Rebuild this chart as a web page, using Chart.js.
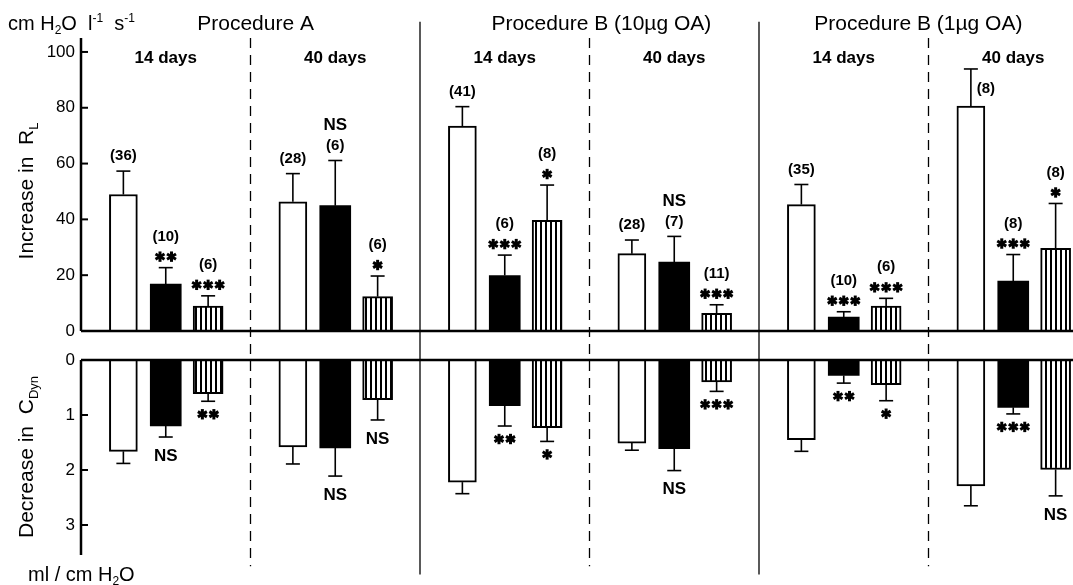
<!DOCTYPE html>
<html>
<head>
<meta charset="utf-8">
<script src="https://cdn.jsdelivr.net/npm/chart.js@4.4.1/dist/chart.umd.min.js"></script>
<style>
  html, body { margin: 0; padding: 0; background: #fff; }
  canvas { display: block; }
</style>
</head>
<body>
<canvas id="chart" width="1073" height="585"></canvas>
<script>
// groups, left to right
const procedures = ['Procedure A', 'Procedure B (10µg OA)', 'Procedure B (1µg OA)'];
const periods = ['14 days', '40 days', '14 days', '40 days', '14 days', '40 days'];

// increase in R_L (cm H2O l-1 s-1): mean and SEM
const rlWhite = [48.9, 46.3, 73.4, 27.7, 45.3, 80.6];
const rlWhiteSem = [8.4, 10.1, 7.0, 4.9, 7.2, 13.3];
const rlBlack = [16.8, 44.9, 19.9, 24.7, 5.0, 17.9];
const rlBlackSem = [5.9, 16.2, 7.3, 9.2, 1.9, 9.5];
const rlHatch = [8.9, 12.3, 39.7, 6.3, 8.9, 29.6];
const rlHatchSem = [3.7, 7.4, 12.6, 3.1, 2.8, 16.1];

// decrease in C_Dyn (ml/cm H2O): mean and SEM
const cdWhite = [1.66, 1.58, 2.22, 1.51, 1.45, 2.29];
const cdWhiteSem = [0.22, 0.31, 0.21, 0.13, 0.21, 0.36];
const cdBlack = [1.20, 1.60, 0.83, 1.61, 0.28, 0.86];
const cdBlackSem = [0.20, 0.51, 0.37, 0.40, 0.14, 0.12];
const cdHatch = [0.61, 0.72, 1.23, 0.40, 0.45, 1.99];
const cdHatchSem = [0.14, 0.37, 0.25, 0.17, 0.29, 0.48];

// text above the R_L bars (top line first) and below the C_Dyn bars
const rlWhiteNotes = [['(36)'], ['(28)'], ['(41)'], ['(28)'], ['(35)'], ['(8)']];
const rlBlackNotes = [['(10)', '**'], ['NS', '(6)'], ['(6)', '***'], ['NS', '(7)'], ['(10)', '***'], ['(8)', '***']];
const rlHatchNotes = [['(6)', '***'], ['(6)', '*'], ['(8)', '*'], ['(11)', '***'], ['(6)', '***'], ['(8)', '*']];
const cdWhiteNotes = [[], [], [], [], [], []];
const cdBlackNotes = [['NS'], ['NS'], ['**'], ['NS'], ['**'], ['***']];
const cdHatchNotes = [['**'], ['NS'], ['*'], ['***'], ['*'], ['NS']];

const rlTicks = [0, 20, 40, 60, 80, 100];
const cdTicks = [0, 1, 2, 3];

const FONT = '"Liberation Sans", Arial, sans-serif';
Chart.defaults.font.family = FONT;
Chart.defaults.color = '#000';

const canvas = document.getElementById('chart');
const ctx = canvas.getContext('2d');

// vertical stripes for the third bar of each group
function stripes() {
  const c = document.createElement('canvas');
  c.width = 5; c.height = 4;
  const g = c.getContext('2d');
  g.fillStyle = '#fff'; g.fillRect(0, 0, 5, 4);
  g.fillStyle = '#000'; g.fillRect(0, 0, 2, 4);
  return ctx.createPattern(c, 'repeat');
}

const whiteStyle = { backgroundColor: '#fff', borderColor: '#000', borderWidth: 2, barThickness: 28 };
const blackStyle = { backgroundColor: '#000', borderColor: '#000', borderWidth: 0, barThickness: 31 };
const hatchStyle = { backgroundColor: stripes(), borderColor: '#000', borderWidth: 2, barThickness: 30 };

function bars(values, sem, notes, slot, axis, style) {
  return Object.assign({
    data: values.map((v, i) => ({ x: i + slot, y: v })),
    sem: sem, notes: notes, yAxisID: axis
  }, style);
}

function line(c, x1, y1, x2, y2) {
  c.beginPath(); c.moveTo(x1, y1); c.lineTo(x2, y2); c.stroke();
}

function drawStars(c, n, cx, cy) {
  c.save();
  c.lineWidth = 3; c.strokeStyle = '#000';
  for (let k = 0; k < n; k++) {
    const sx = cx + (k - (n - 1) / 2) * 11.5;
    for (let a = 0; a < 3; a++) {
      const ang = Math.PI / 2 + a * Math.PI / 3;
      line(c, sx - 5.2 * Math.cos(ang), cy - 5.2 * Math.sin(ang), sx + 5.2 * Math.cos(ang), cy + 5.2 * Math.sin(ang));
    }
  }
  c.restore();
}

function drawNote(c, s, cx, cy) {
  if (/^\*+$/.test(s)) { drawStars(c, s.length, cx, cy); return; }
  c.font = (s === 'NS' ? 'bold 17px ' : 'bold 15px ') + FONT;
  c.textAlign = 'center'; c.textBaseline = 'middle';
  c.fillText(s, cx, cy);
}

// text with sub (1) and superscript (2) parts
function richText(c, parts, x, y, size, align) {
  const fontFor = k => (k ? Math.round(size * 0.62) : size) + 'px ' + FONT;
  let w = 0;
  parts.forEach(([t, k]) => { c.font = fontFor(k); w += c.measureText(t).width; });
  let cx = align === 'center' ? x - w / 2 : x;
  c.textAlign = 'left'; c.textBaseline = 'alphabetic';
  parts.forEach(([t, k]) => {
    c.font = fontFor(k);
    const dy = k === 1 ? size * 0.22 : k === 2 ? -size * 0.42 : 0;
    c.fillText(t, cx, y + dy);
    cx += c.measureText(t).width;
  });
}

const figure = {
  id: 'figure',
  beforeDatasetsDraw(chart) {
    const { ctx: c, scales: { x, yTop, yBottom } } = chart;
    c.save();
    c.strokeStyle = '#000';
    // solid lines between procedures, dashed between periods
    c.lineWidth = 1.3;
    [2, 4].forEach(g => {
      const px = x.getPixelForValue(g);
      line(c, px, yTop.getPixelForValue(110.8), px, yBottom.getPixelForValue(3.9));
    });
    c.setLineDash([10, 7]);
    [1, 3, 5].forEach(g => {
      const px = x.getPixelForValue(g);
      line(c, px, yTop.getPixelForValue(105), px, yBottom.getPixelForValue(3.75));
    });
    c.restore();
  },
  afterDatasetsDraw(chart) {
    const { ctx: c, chartArea: area, scales: { yTop, yBottom } } = chart;
    c.save();
    c.strokeStyle = '#000'; c.fillStyle = '#000';

    // zero lines and axes
    c.lineWidth = 2.5;
    line(c, area.left, yTop.getPixelForValue(0), area.right, yTop.getPixelForValue(0));
    line(c, area.left, yBottom.getPixelForValue(0), area.right, yBottom.getPixelForValue(0));
    line(c, area.left, yTop.getPixelForValue(yTop.max), area.left, yTop.getPixelForValue(0));
    line(c, area.left, yBottom.getPixelForValue(0), area.left, yBottom.getPixelForValue(yBottom.max));
    c.lineWidth = 2;
    yTop.ticks.forEach(t => { if (t.value) { const py = yTop.getPixelForValue(t.value); line(c, area.left, py, area.left + 7, py); } });
    yBottom.ticks.forEach(t => { if (t.value) { const py = yBottom.getPixelForValue(t.value); line(c, area.left, py, area.left + 7, py); } });

    // error bars and labels
    chart.data.datasets.forEach((ds, di) => {
      const meta = chart.getDatasetMeta(di);
      const scale = chart.scales[ds.yAxisID];
      const down = ds.yAxisID === 'yBottom';
      meta.data.forEach((bar, j) => {
        const v = ds.data[j].y;
        const y0 = scale.getPixelForValue(v);
        const y1 = scale.getPixelForValue(v + ds.sem[j]);
        c.lineWidth = 1.6;
        line(c, bar.x, y0, bar.x, y1);
        line(c, bar.x - 7, y1, bar.x + 7, y1);
        const notes = ds.notes[j];
        if (down) {
          notes.forEach(s => drawNote(c, s, bar.x, y1 + (s === 'NS' ? 19 : 13)));
        } else if (y1 - 15 < 75) {
          // no room under the headings: put it beside the error bar
          notes.forEach(s => drawNote(c, s, bar.x + 15, y1 + 20));
        } else {
          let off = 0;
          for (let k = notes.length - 1; k >= 0; k--) {
            const star = /^\*+$/.test(notes[k]);
            off = k === notes.length - 1 ? (star ? 11 : 15) : off + 20;
            drawNote(c, notes[k], bar.x, y1 - off);
          }
        }
      });
    });
    c.restore();
  },
  afterDraw(chart) {
    const { ctx: c, scales: { x } } = chart;
    c.save();
    c.fillStyle = '#000';
    richText(c, [['cm H', 0], ['2', 1], ['O  l', 0], ['-1', 2], ['  s', 0], ['-1', 2]], 8, 30, 20, 'left');
    const headAt = [1.03, 3.07, 4.94];
    procedures.forEach((p, i) => richText(c, [[p, 0]], x.getPixelForValue(headAt[i]), 30, 21, 'center'));
    c.font = 'bold 17px ' + FONT;
    c.textAlign = 'center'; c.textBaseline = 'alphabetic';
    periods.forEach((p, i) => c.fillText(p, x.getPixelForValue(i + 0.5), 63));
    richText(c, [['ml / cm H', 0], ['2', 1], ['O', 0]], 28, 581, 20, 'left');

    c.save();
    c.translate(33, 191); c.rotate(-Math.PI / 2);
    richText(c, [['Increase in  R', 0], ['L', 1]], 0, 0, 21, 'center');
    c.restore();
    c.save();
    c.translate(33, 457); c.rotate(-Math.PI / 2);
    richText(c, [['Decrease in  C', 0], ['Dyn', 1]], 0, 0, 21, 'center');
    c.restore();
    c.restore();
  }
};

const axisWidth = scale => { scale.width = 81; };

new Chart(ctx, {
  type: 'bar',
  data: {
    datasets: [
      bars(cdWhite, cdWhiteSem, cdWhiteNotes, 0.25, 'yBottom', whiteStyle),
      bars(cdBlack, cdBlackSem, cdBlackNotes, 0.5, 'yBottom', blackStyle),
      bars(cdHatch, cdHatchSem, cdHatchNotes, 0.75, 'yBottom', hatchStyle),
      bars(rlWhite, rlWhiteSem, rlWhiteNotes, 0.25, 'yTop', whiteStyle),
      bars(rlBlack, rlBlackSem, rlBlackNotes, 0.5, 'yTop', blackStyle),
      bars(rlHatch, rlHatchSem, rlHatchNotes, 0.75, 'yTop', hatchStyle)
    ]
  },
  options: {
    responsive: false,
    animation: false,
    devicePixelRatio: 1,
    layout: { padding: { left: 0, right: 0, top: 38, bottom: 30 } },
    datasets: { bar: { grouped: false, borderSkipped: 'start' } },
    plugins: { legend: { display: false }, tooltip: { enabled: false } },
    scales: {
      x: { type: 'linear', min: 0, max: 5.8525, offset: false, display: false },
      yBottom: {
        type: 'linear', position: 'left', stack: 'panels', stackWeight: 210,
        reverse: true, min: -0.273, max: 3.545,
        afterBuildTicks: s => { s.ticks = cdTicks.map(v => ({ value: v })); },
        afterFit: axisWidth,
        grid: { display: false, drawTicks: false }, border: { display: false },
        ticks: { font: { size: 17 }, padding: 6 }
      },
      yTop: {
        type: 'linear', position: 'left', stack: 'panels', stackWeight: 307,
        min: -5.02, max: 105,
        afterBuildTicks: s => { s.ticks = rlTicks.map(v => ({ value: v })); },
        afterFit: axisWidth,
        grid: { display: false, drawTicks: false }, border: { display: false },
        ticks: { font: { size: 17 }, padding: 6 }
      }
    }
  },
  plugins: [figure]
});
</script>
</body>
</html>
